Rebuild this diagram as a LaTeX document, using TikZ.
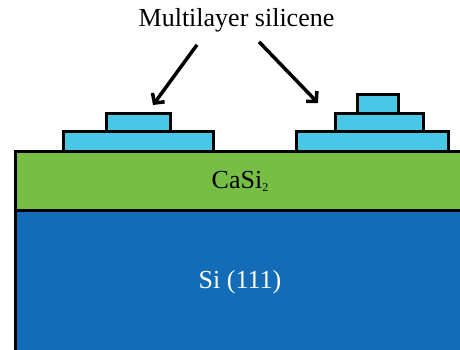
\documentclass[tikz,border=0pt]{standalone}
\usepackage{fontspec}
\setmainfont{Liberation Serif}
\usetikzlibrary{positioning,arrows.meta}
\definecolor{casigreen}{RGB}{119,190,68}
\definecolor{siblue}{RGB}{19,108,184}
\definecolor{silcyan}{RGB}{72,199,231}
\newcommand{\lowsub}[1]{\raisebox{-3pt}{\fontsize{12}{12}\selectfont #1}}

\begin{document}
\begin{tikzpicture}[x=1pt, y=1pt, line width=3pt,
                    style={inner sep=0pt, outer sep=0pt}]
\tikzstyle{every node}=[font=\fontsize{26}{30}\selectfont]
\tikzstyle{layer}=[draw, rectangle, inner sep=0pt, outer sep=0pt]
\tikzstyle{flake}=[draw, rectangle, fill=silcyan, inner sep=0pt, outer sep=0pt]
\tikzstyle{arw}=[-{Straight Barb[length=7pt,width=15pt]}, line width=3.5pt]
\useasboundingbox (0,0) rectangle (460,350);

% substrate
\node [layer, fill=siblue, text=white, minimum width=450, minimum height=142,
       anchor=north west] (si) at (15,139) {Si (111)};
\node [layer, fill=casigreen, minimum width=450, minimum height=59,
       anchor=south west] (casi) at (15,139) {CaSi\lowsub{2}};

% silicene islands
\node [flake, minimum width=150, minimum height=20, anchor=south west] (lb) at (63,198) {};
\node [flake, minimum width=64, minimum height=18] (lt) [above=0pt of lb] {};
\node [flake, minimum width=152, minimum height=20, anchor=south west] (rb) at (296,198) {};
\node [flake, minimum width=88, minimum height=18, xshift=7pt] (rm) [above=0pt of rb] {};
\node [flake, minimum width=41, minimum height=19, xshift=-1.5pt] (rt) [above=0pt of rm] {};

% label
\node (title) at (236.5,330) {Multilayer silicene};
\coordinate (tipl) at (153,245);
\coordinate (tipr) at (318,247);
\draw [arw] ([xshift=-39.5pt, yshift=-13pt]title.south) -- (tipl);
\draw [arw] ([xshift=22.5pt, yshift=-10pt]title.south) -- (tipr);
\end{tikzpicture}
\end{document}
